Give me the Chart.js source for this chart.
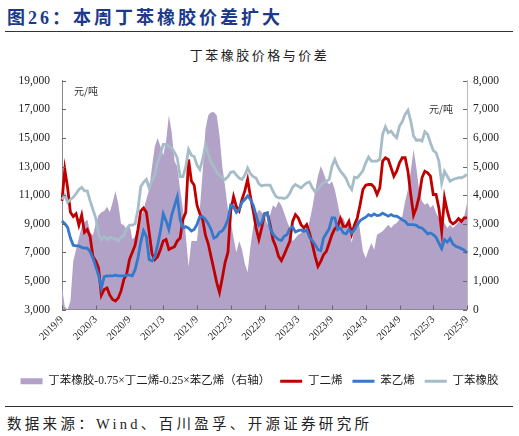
<!DOCTYPE html>
<html>
<head>
<meta charset="utf-8">
<script src="https://cdn.jsdelivr.net/npm/chart.js@4.4.0/dist/chart.umd.min.js"></script>
<style>
  html, body { margin: 0; padding: 0; background: #fff; }
  body { width: 519px; height: 436px; position: relative; overflow: hidden; font-family: 'Noto Sans CJK SC', sans-serif; }
  #title { position: absolute; left: 7px; top: 3px; font: bold 18px 'Liberation Serif', 'Noto Sans CJK SC'; color: #1b3a8c; letter-spacing: 3px; white-space: nowrap; }
  .rule { position: absolute; left: 5px; width: 508px; height: 1px; background: #333; }
  #sub { position: absolute; left: 0; width: 519px; top: 45px; text-align: center; font-size: 13px; letter-spacing: 2.5px; color: #222; }
  #src { position: absolute; left: 7px; top: 412px; font: 14.5px 'Liberation Serif', 'Noto Sans CJK SC'; letter-spacing: 3.3px; color: #222; white-space: nowrap; }
  #box { position: absolute; left: 0; top: 62px; width: 519px; height: 335px; }
</style>
</head>
<body>
<div id="title">图26：本周丁苯橡胶价差扩大</div>
<div class="rule" style="top:31px"></div>
<div id="sub">丁苯橡胶价格与价差</div>
<div id="box"><canvas id="myChart"></canvas></div>
<div class="rule" style="top:406px"></div>
<div id="src">数据来源：Wind、百川盈孚、开源证券研究所</div>

<script>
// half-month steps from 2019/9 to 2025/9, a tick label every 12 steps
const tickLabels = ['2019/9', '2020/3', '2020/9', '2021/3', '2021/9', '2022/3', '2022/9',
    '2023/3', '2023/9', '2024/3', '2024/9', '2025/3', '2025/9'];

// 丁苯橡胶-0.75×丁二烯-0.25×苯乙烯 (right axis)
const spread = [
    800, 100, 0, 300, 1700, 2100, 2500, 2900, 3050, 3150, 2700, 2600, 3000, 3300, 3400, 3450, 3600, 3400, 3750, 4150, 3700, 3000, 2950, 2800, 3000,
    2460, 2550, 2900, 3200, 3500, 3860, 4210, 5000, 5700, 6000, 5700, 5400, 5900, 6800, 6200, 5200, 5000, 4200, 3500, 2600, 1500, 2400, 2400, 2400,
    3500, 4800, 6300, 6800, 6900, 6900, 6800, 6100, 5000, 4300, 3500, 3100, 2500, 2000, 2400, 2100, 1600, 1300, 2200, 2900, 3300, 3500, 3400, 3300,
    2970, 3320, 3650, 3560, 3790, 3650, 3380, 3090, 2850, 2390, 2500, 2620, 2680, 2850, 2740, 3090, 3560, 4140, 4670, 5020, 4790, 4490, 4380, 4490,
    4200, 3730, 3210, 3210, 2910, 3030, 2330, 2850, 3500, 2740, 2040, 1800, 2090, 2330, 2090, 2620, 2680, 2740, 2850, 2970, 2850, 2970, 3030, 3150,
    3260, 3790, 4200, 4840, 5600, 4960, 4140, 3790, 3670, 3730, 3560, 3670, 3380, 3210, 3150, 3030, 2850, 2970, 2850, 2950, 3060, 3150, 3260, 3700
];

// 丁二烯
const butadiene = [
    10600, 12800, 11500, 9800, 9500, 9700, 8900, 9600, 8400, 8600, 8100, 6700, 6400, 5900, 4000, 4400, 4500, 4000, 3700, 3600, 3800, 4300, 5100, 5500, 6500,
    7000, 7500, 8600, 9900, 10100, 9800, 8400, 6900, 6500, 6700, 7200, 7800, 7900, 7200, 7300, 7400, 7800, 8000, 9300, 9800, 13500, 12000, 11700, 10300,
    9700, 9300, 8200, 7600, 6700, 5800, 4900, 4200, 5200, 6300, 7000, 9900, 10900, 10200, 9900, 10700, 11300, 12100, 10900, 9900, 8700, 7900, 8700, 9700,
    9760, 8940, 7890, 7420, 6720, 6420, 6840, 7300, 7770, 9170, 9640, 9410, 8940, 8710, 8940, 8360, 7580, 6720, 6020, 6370, 6840, 7070, 7650, 8240,
    8660, 8820, 9360, 8820, 8820, 9170, 8290, 8940, 9410, 10340, 11400, 11700, 11750, 11750, 11560, 11050, 11510, 13390, 13620, 13500, 12920, 12330, 12680, 13270,
    13620, 13620, 12680, 11050, 9600, 10110, 10930, 12220, 12680, 12570, 12330, 11050, 11050, 10110, 8470, 10810, 9880, 9170, 8990, 9130, 9360, 9170, 9410, 9410
];

// 苯乙烯
const styrene = [
    9200, 9000, 8750, 8000, 7500, 7450, 7450, 7350, 7300, 7300, 7050, 6600, 6000, 5400, 4500, 5300, 5350, 5350, 5350, 5400, 5350, 5350, 5350, 5400, 5400,
    5350, 5800, 6600, 7700, 8500, 8100, 6500, 6400, 6700, 7500, 8500, 9700, 9200, 8600, 9600, 10250, 10900, 9300, 8700, 8800, 8700, 8500, 8600, 8950,
    9500, 9500, 9300, 9000, 8600, 8000, 8100, 8400, 8500, 8800, 9300, 10300, 10200, 9800, 10000, 10500, 10700, 10950, 10700, 10300, 9600, 8900, 9100, 9700,
    9760, 8710, 8290, 8050, 7890, 7820, 8120, 8240, 8660, 8780, 8430, 8520, 8570, 8470, 8590, 8050, 7820, 7540, 7190, 7120, 8010, 8330, 8660, 9410,
    9410, 8590, 8710, 8360, 8290, 8590, 8360, 8590, 8940, 9220, 9360, 9460, 9640, 9550, 9690, 9570, 9600, 9740, 9640, 9530, 9640, 9530, 9530, 9410,
    9270, 9170, 8940, 8940, 8940, 8890, 8750, 8710, 8520, 8290, 8360, 8240, 8050, 7650, 7260, 7890, 7720, 7960, 7580, 7420, 7350, 7260, 7160, 6950
];

// 丁苯橡胶
const sbr = [
    10700, 11000, 10500, 10700, 10850, 11100, 11400, 11550, 11300, 11300, 10600, 10000, 9400, 8300, 7900, 8100, 7900, 8050, 8000, 7950, 7800, 8050, 8150, 8650, 8900,
    8900, 9000, 10000, 11600, 11900, 12100, 11500, 12000, 12400, 13300, 13900, 14550, 14550, 14400, 14300, 14000, 13600, 12300, 12300, 13000, 14200, 13800, 13700, 13100,
    12800, 13500, 14500, 13900, 13300, 13000, 12600, 12400, 12200, 12100, 12300, 12600, 12650, 12400, 12200, 12100, 12400, 12900, 12500, 12300, 12200, 11800, 11650, 11700,
    11700, 11700, 11280, 10930, 10810, 10810, 10770, 10860, 11140, 11560, 11750, 11630, 11510, 11700, 11860, 11930, 11510, 11230, 11400, 11700, 11860, 11980, 12100, 13030,
    13500, 13030, 12680, 12450, 12170, 11700, 11400, 12260, 12220, 12450, 12730, 13270, 13670, 13390, 13390, 13390, 13500, 15260, 15790, 15370, 15490, 15210, 15020, 15840,
    16150, 16660, 16940, 16190, 15140, 14840, 14880, 14790, 15440, 15260, 14670, 14130, 13970, 13390, 11860, 12680, 12330, 11980, 12100, 12170, 12220, 12220, 12310, 12450
];

const labels = spread.map((_, i) => {
    const m = 8 + Math.floor(i / 2);
    return (2019 + Math.floor(m / 12)) + '/' + (m % 12 + 1) + (i % 2 ? '下' : '');
});

const serif = "'Liberation Serif', 'Noto Sans CJK SC'";
const axisColor = '#8a8a8a';

// short inward tick marks plus the 元/吨 unit notes
const innerTicks = {
    id: 'innerTicks',
    afterDatasetsDraw(chart) {
        const { ctx, chartArea: a, scales } = chart;
        ctx.save();
        ctx.strokeStyle = '#666';
        ctx.lineWidth = 1;
        ctx.beginPath();
        scales.y.ticks.forEach(t => {
            const y = Math.round(scales.y.getPixelForValue(t.value)) + 0.5;
            ctx.moveTo(a.left, y); ctx.lineTo(a.left + 4, y);
        });
        scales.y1.ticks.forEach(t => {
            const y = Math.round(scales.y1.getPixelForValue(t.value)) + 0.5;
            ctx.moveTo(a.right - 4, y); ctx.lineTo(a.right, y);
        });
        tickLabels.forEach((_, k) => {
            const x = Math.round(scales.x.getPixelForValue(k * 12)) + 0.5;
            ctx.moveTo(x, a.bottom); ctx.lineTo(x, a.bottom - 4);
        });
        ctx.stroke();
        ctx.fillStyle = '#333';
        ctx.font = "10px 'Noto Sans CJK SC'";
        ctx.textBaseline = 'middle';
        ctx.textAlign = 'left';
        ctx.fillText('元/吨', a.left + 12, a.top + 10);
        ctx.textAlign = 'right';
        ctx.fillText('元/吨', a.right - 14, a.top + 28);
        ctx.restore();
    }
};

const data = {
    labels: labels,
    datasets: [{
        label: '丁苯橡胶-0.75×丁二烯-0.25×苯乙烯（右轴）',
        data: spread,
        yAxisID: 'y1',
        fill: 'origin',
        backgroundColor: '#b3a2c7',
        borderWidth: 0,
        pointRadius: 0,
        order: 10
    }, {
        label: '丁二烯',
        data: butadiene,
        yAxisID: 'y',
        borderColor: '#c00000',
        backgroundColor: '#c00000',
        borderWidth: 2.8,
        pointRadius: 0,
        order: 3
    }, {
        label: '苯乙烯',
        data: styrene,
        yAxisID: 'y',
        borderColor: '#3579cb',
        backgroundColor: '#3579cb',
        borderWidth: 2.8,
        pointRadius: 0,
        order: 2
    }, {
        label: '丁苯橡胶',
        data: sbr,
        yAxisID: 'y',
        borderColor: '#a6bdc9',
        backgroundColor: '#a6bdc9',
        borderWidth: 2.8,
        pointRadius: 0,
        order: 1
    }]
};

const config = {
    type: 'line',
    data: data,
    plugins: [innerTicks],
    options: {
        responsive: true,
        maintainAspectRatio: false,
        animation: false,
        layout: { padding: { top: 18, left: 0, right: 0, bottom: 0 } },
        plugins: {
            tooltip: { enabled: false },
            legend: {
                position: 'bottom',
                labels: {
                    usePointStyle: true,
                    pointStyleWidth: 22,
                    boxHeight: 6,
                    padding: 10,
                    color: '#222',
                    font: { family: serif, size: 11.5 },
                    generateLabels(chart) {
                        return chart.data.datasets.map((ds, i) => ({
                            text: ds.label,
                            datasetIndex: i,
                            fillStyle: ds.backgroundColor,
                            strokeStyle: i === 0 ? ds.backgroundColor : ds.borderColor,
                            lineWidth: i === 0 ? 0 : 3,
                            pointStyle: i === 0 ? 'rect' : 'line',
                            fontColor: '#222'
                        }));
                    }
                }
            }
        },
        scales: {
            x: {
                type: 'category',
                offset: false,
                grid: { display: false, drawTicks: false },
                border: { color: axisColor },
                ticks: {
                    autoSkip: false,
                    minRotation: 45,
                    maxRotation: 45,
                    padding: 4,
                    color: '#222',
                    font: { family: serif, size: 10.5 },
                    callback: (v, i) => (i % 12 === 0 ? tickLabels[i / 12] : '')
                },
                afterFit: s => { s.height = 56; }
            },
            y: {
                position: 'left',
                min: 3000,
                max: 19000,
                grid: { display: false, drawTicks: false },
                border: { color: axisColor },
                ticks: {
                    stepSize: 2000,
                    padding: 12,
                    color: '#222',
                    font: { family: serif, size: 11.5 },
                    callback: v => v.toLocaleString('en-US')
                },
                afterFit: s => { s.width = 62; }
            },
            y1: {
                position: 'right',
                min: 0,
                max: 8000,
                grid: { display: false, drawTicks: false },
                border: { color: '#bbb' },
                ticks: {
                    stepSize: 1000,
                    padding: 6,
                    color: '#222',
                    font: { family: serif, size: 11.5 },
                    callback: v => v.toLocaleString('en-US')
                },
                afterFit: s => { s.width = 52; }
            }
        }
    }
};

new Chart(
    document.getElementById('myChart'),
    config
);
</script>
</body>
</html>
